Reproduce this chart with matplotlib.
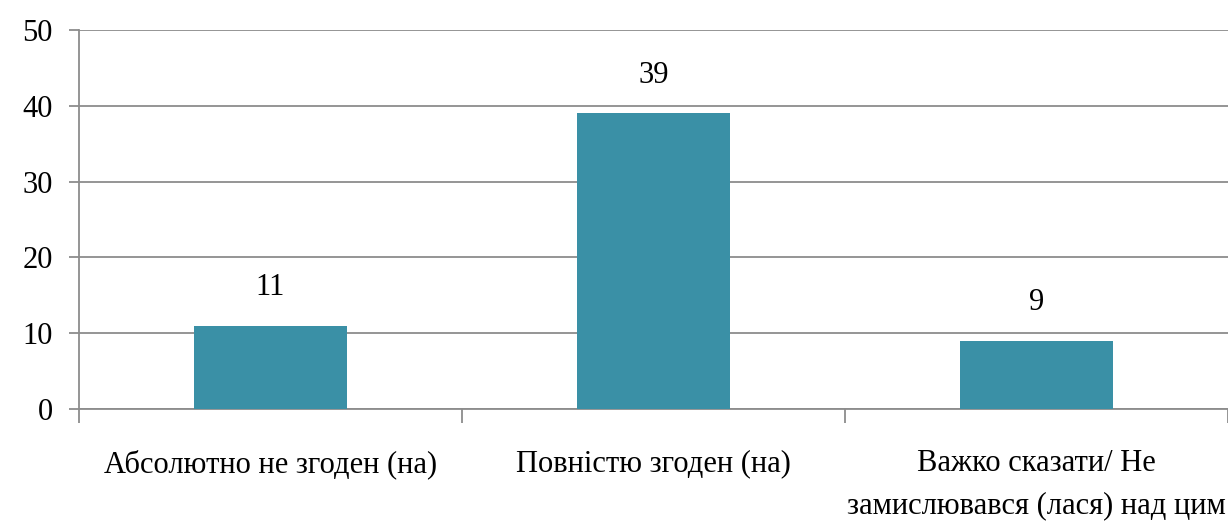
import numpy as np
import matplotlib.pyplot as plt

categories = ['Абсолютно не згоден (на)', 'Повністю згоден (на)',
              'Важко сказати/ Не\nзамислювався (лася) над цим']
values = [11, 39, 9]
y_ticks = [0, 10, 20, 30, 40, 50]

BAR_COLOR = '#3A90A6'
GRID_COLOR = '#8C8C8C'

plt.rcParams['font.family'] = ['Liberation Serif', 'DejaVu Serif']

fig = plt.figure(figsize=(12.28, 5.31), dpi=100)
ax = fig.add_axes([79 / 1228, 1 - 409 / 531, 1 - 79 / 1228, (409 - 30) / 531])

x = np.arange(len(categories))
ax.bar(x, values, width=0.4, color=BAR_COLOR, zorder=3)

for xi, v in zip(x, values):
    ax.annotate(str(v), (xi, v), xytext=(0, 17), textcoords='offset points',
                ha='center', va='bottom', fontsize=22)

ax.set_xlim(-0.5, len(categories) - 0.5)
ax.set_ylim(0, 50)
ax.set_yticks(y_ticks)
ax.yaxis.grid(True, color=GRID_COLOR, linewidth=1.3, zorder=0)
ax.set_axisbelow(True)

ax.set_xticks(x)
ax.set_xticklabels(categories, fontsize=22, linespacing=1.6)
ax.set_xticks(np.arange(-0.5, len(categories)), minor=True)
ax.tick_params(axis='x', which='major', length=0, pad=29)
ax.tick_params(axis='x', which='minor', length=10, color=GRID_COLOR, width=1.3)
ax.tick_params(axis='y', length=7, color=GRID_COLOR, width=1.3, pad=12, labelsize=22)

for side in ['top', 'right']:
    ax.spines[side].set_visible(False)
for side in ['left', 'bottom']:
    ax.spines[side].set_color(GRID_COLOR)
    ax.spines[side].set_linewidth(1.3)

fig.savefig('out.png', dpi=100)
